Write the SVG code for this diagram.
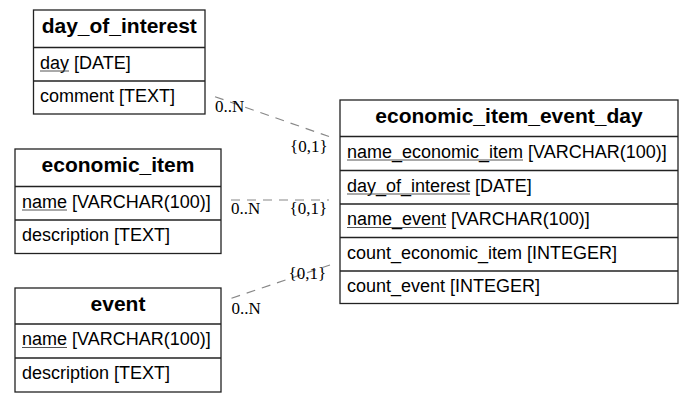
<svg xmlns="http://www.w3.org/2000/svg" width="695" height="403" viewBox="0 0 695 403">
<style>
.box{fill:#fff;stroke:#222;stroke-width:1.3}
.sep{stroke:#222;stroke-width:1.3}
.hd{font-family:"Liberation Sans",Arial,sans-serif;font-weight:bold;font-size:21px;fill:#000;text-anchor:middle}
.rw{font-family:"Liberation Sans",Arial,sans-serif;font-size:18px;fill:#000}
.ul{stroke:#555;stroke-width:1}
.edge{stroke:#888;stroke-width:1.2;stroke-dasharray:9,7;fill:none}
.lb{font-family:"Liberation Serif","Times New Roman",serif;font-size:17px;fill:#000}
</style>
<rect width="695" height="403" fill="#fff"/>
<g id="connectors">
<line class="edge" x1="215" y1="96.7" x2="329" y2="136.5"/>
<line class="edge" x1="231" y1="200" x2="329" y2="200"/>
<line class="edge" x1="231.5" y1="298.3" x2="330" y2="265"/>
<text class="lb" x="215" y="111.5">0..N</text>
<text class="lb" x="290" y="152">{0,1}</text>
<text class="lb" x="231" y="214">0..N</text>
<text class="lb" x="289.5" y="214">{0,1}</text>
<text class="lb" x="288.5" y="278.5">{0,1}</text>
<text class="lb" x="231.5" y="314">0..N</text>
</g>
<g id="day_of_interest">
<rect class="box" x="33.5" y="10" width="171.5" height="104"/>
<line class="sep" x1="33.5" y1="47.5" x2="205" y2="47.5"/>
<line class="sep" x1="33.5" y1="81" x2="205" y2="81"/>
<text class="hd" x="119.25" y="32.5">day_of_interest</text>
<text class="rw" x="40" y="68.5">day [DATE]</text>
<line class="ul" x1="40" y1="71" x2="69" y2="71"/>
<text class="rw" x="40" y="102">comment [TEXT]</text>
</g>
<g id="economic_item">
<rect class="box" x="15" y="149" width="206" height="104.5"/>
<line class="sep" x1="15" y1="186.5" x2="221" y2="186.5"/>
<line class="sep" x1="15" y1="220" x2="221" y2="220"/>
<text class="hd" x="118" y="171.5">economic_item</text>
<text class="rw" x="22" y="207.5">name [VARCHAR(100)]</text>
<line class="ul" x1="22" y1="210" x2="67" y2="210"/>
<text class="rw" x="22" y="241">description [TEXT]</text>
</g>
<g id="event">
<rect class="box" x="15" y="288" width="206" height="104"/>
<line class="sep" x1="15" y1="324" x2="221" y2="324"/>
<line class="sep" x1="15" y1="358" x2="221" y2="358"/>
<text class="hd" x="118" y="310.5">event</text>
<text class="rw" x="22" y="345">name [VARCHAR(100)]</text>
<line class="ul" x1="22" y1="347.5" x2="67" y2="347.5"/>
<text class="rw" x="22" y="379">description [TEXT]</text>
</g>
<g id="economic_item_event_day">
<rect class="box" x="340" y="100" width="338" height="203.5"/>
<line class="sep" x1="340" y1="136.5" x2="678" y2="136.5"/>
<line class="sep" x1="340" y1="170.5" x2="678" y2="170.5"/>
<line class="sep" x1="340" y1="204" x2="678" y2="204"/>
<line class="sep" x1="340" y1="237.5" x2="678" y2="237.5"/>
<line class="sep" x1="340" y1="271" x2="678" y2="271"/>
<text class="hd" x="509" y="122.5">economic_item_event_day</text>
<text class="rw" x="347" y="157.5">name_economic_item [VARCHAR(100)]</text>
<line class="ul" x1="347" y1="160" x2="523" y2="160"/>
<text class="rw" x="347" y="191.5">day_of_interest [DATE]</text>
<line class="ul" x1="347" y1="194" x2="470" y2="194"/>
<text class="rw" x="347" y="225">name_event [VARCHAR(100)]</text>
<line class="ul" x1="347" y1="227.5" x2="446" y2="227.5"/>
<text class="rw" x="347" y="258.5">count_economic_item [INTEGER]</text>
<text class="rw" x="347" y="292">count_event [INTEGER]</text>
</g>
</svg>
